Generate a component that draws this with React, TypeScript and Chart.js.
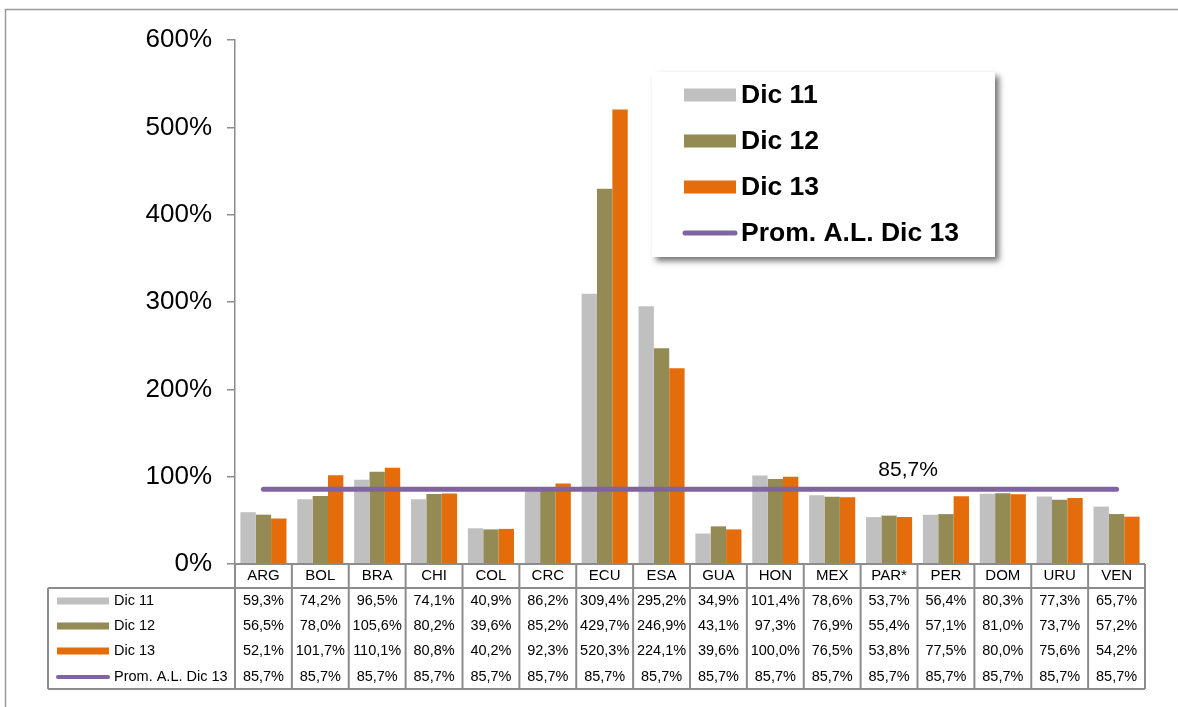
import React, { useEffect, useRef } from "react";
import { Chart, registerables } from "chart.js";

Chart.register(...registerables);

const categories = ["ARG", "BOL", "BRA", "CHI", "COL", "CRC", "ECU", "ESA", "GUA", "HON", "MEX", "PAR*", "PER", "DOM", "URU", "VEN"];
const dic11 = [59.3, 74.2, 96.5, 74.1, 40.9, 86.2, 309.4, 295.2, 34.9, 101.4, 78.6, 53.7, 56.4, 80.3, 77.3, 65.7];
const dic12 = [56.5, 78.0, 105.6, 80.2, 39.6, 85.2, 429.7, 246.9, 43.1, 97.3, 76.9, 55.4, 57.1, 81.0, 73.7, 57.2];
const dic13 = [52.1, 101.7, 110.1, 80.8, 40.2, 92.3, 520.3, 224.1, 39.6, 100.0, 76.5, 53.8, 77.5, 80.0, 75.6, 54.2];
const prom = [85.7, 85.7, 85.7, 85.7, 85.7, 85.7, 85.7, 85.7, 85.7, 85.7, 85.7, 85.7, 85.7, 85.7, 85.7, 85.7];
const seriesNames = ["Dic 11", "Dic 12", "Dic 13", "Prom. A.L. Dic 13"];
const yTicks = [0, 100, 200, 300, 400, 500, 600];
const promLabelIndex = 11;

const COLORS = ["#C0C0C0", "#948A54", "#E46C0A", "#8064A2"];
const FONT = "'Liberation Sans', Arial, sans-serif";
const LINE_GRAY = "#8C8C8C";

const fmt = (v: number) => v.toFixed(1).replace(".", ",") + "%";

const framePlugin = {
  id: "frame",
  beforeDraw(chart: any) {
    const ctx = chart.ctx;
    ctx.save();
    ctx.fillStyle = "#fff";
    ctx.fillRect(0, 0, chart.width, chart.height);
    ctx.strokeStyle = "#9A9A9A";
    ctx.lineWidth = 1.5;
    ctx.strokeRect(5.5, 9.5, 1300, 800);
    ctx.restore();
  },
};

const tablePlugin = {
  id: "dataTable",
  afterDraw(chart: any) {
    const ctx = chart.ctx;
    const xs = chart.scales.x;
    const area = chart.chartArea;
    const n = categories.length;
    const w = (area.right - area.left) / n;
    const top = area.bottom;
    const headBottom = top + 24;
    const bottom = 689;
    const labelLeft = 48;
    const rowY = [601, 626, 651, 677];
    const data = [dic11, dic12, dic13, prom];
    ctx.save();
    ctx.strokeStyle = LINE_GRAY;
    ctx.lineWidth = 2;
    ctx.beginPath();
    ctx.moveTo(area.left, top);
    ctx.lineTo(area.right, top);
    ctx.stroke();
    for (let i = 0; i <= n; i++) {
      const x = area.left + i * w;
      ctx.beginPath();
      ctx.moveTo(x, top);
      ctx.lineTo(x, bottom);
      ctx.stroke();
    }
    ctx.beginPath();
    ctx.moveTo(labelLeft, headBottom);
    ctx.lineTo(area.right, headBottom);
    ctx.moveTo(labelLeft, bottom);
    ctx.lineTo(area.right, bottom);
    ctx.moveTo(labelLeft, headBottom);
    ctx.lineTo(labelLeft, bottom);
    ctx.stroke();
    ctx.fillStyle = "#000";
    ctx.textAlign = "center";
    ctx.textBaseline = "middle";
    ctx.font = `15px ${FONT}`;
    for (let i = 0; i < n; i++) {
      const cx = xs.getPixelForValue(i);
      ctx.fillText(categories[i], cx, top + 12);
    }
    for (let r = 0; r < 4; r++) {
      const y = rowY[r];
      if (r < 3) {
        ctx.fillStyle = COLORS[r];
        ctx.fillRect(57, y - 3.5, 52, 7);
      } else {
        ctx.strokeStyle = COLORS[3];
        ctx.lineWidth = 4;
        ctx.lineCap = "round";
        ctx.beginPath();
        ctx.moveTo(58, y);
        ctx.lineTo(108, y);
        ctx.stroke();
      }
      ctx.fillStyle = "#000";
      ctx.textAlign = "left";
      ctx.font = `14.5px ${FONT}`;
      ctx.fillText(seriesNames[r], 114, y);
      ctx.textAlign = "center";
      for (let i = 0; i < n; i++) {
        const cx = xs.getPixelForValue(i);
        ctx.fillText(fmt(data[r][i]), cx, y);
      }
    }
    ctx.restore();
  },
};

const legendPlugin = {
  id: "boxLegend",
  afterDraw(chart: any) {
    const ctx = chart.ctx;
    const x0 = 652, y0 = 72, x1 = 995, y1 = 257;
    ctx.save();
    ctx.shadowColor = "rgba(0,0,0,0.55)";
    ctx.shadowBlur = 6;
    ctx.shadowOffsetX = 4;
    ctx.shadowOffsetY = 4;
    ctx.fillStyle = "#fff";
    ctx.fillRect(x0, y0, x1 - x0, y1 - y0);
    ctx.restore();
    ctx.save();
    const ys = [95, 141, 187, 233];
    for (let r = 0; r < 4; r++) {
      const y = ys[r];
      if (r < 3) {
        ctx.fillStyle = COLORS[r];
        ctx.fillRect(684, y - 6.5, 52, 13);
      } else {
        ctx.strokeStyle = COLORS[3];
        ctx.lineWidth = 5;
        ctx.lineCap = "round";
        ctx.beginPath();
        ctx.moveTo(685, y);
        ctx.lineTo(735, y);
        ctx.stroke();
      }
      ctx.fillStyle = "#000";
      ctx.font = `bold 26.5px ${FONT}`;
      ctx.textAlign = "left";
      ctx.textBaseline = "middle";
      ctx.fillText(seriesNames[r], 741, y + 1);
    }
    ctx.restore();
  },
};

const promLabelPlugin = {
  id: "promLabel",
  afterDatasetsDraw(chart: any) {
    const ctx = chart.ctx;
    const xs = chart.scales.x;
    const ys = chart.scales.y;
    const x = xs.getPixelForValue(promLabelIndex) + 19;
    const y = ys.getPixelForValue(prom[promLabelIndex]) - 19;
    ctx.save();
    ctx.fillStyle = "#000";
    ctx.font = `21px ${FONT}`;
    ctx.textAlign = "center";
    ctx.textBaseline = "middle";
    ctx.fillText(fmt(prom[promLabelIndex]), x, y);
    ctx.restore();
  },
};

export default function App() {
  const ref = useRef<HTMLCanvasElement>(null);
  useEffect(() => {
    document.body.style.margin = "0";
    const canvas = ref.current;
    if (!canvas) return;
    const chart = new Chart(canvas, {
      type: "bar",
      data: {
        labels: categories,
        datasets: [
          { type: "line", label: seriesNames[3], data: prom, borderColor: COLORS[3], backgroundColor: COLORS[3], borderWidth: 5, pointRadius: 0, borderCapStyle: "round", order: 0 } as any,
          { label: seriesNames[0], data: dic11, backgroundColor: COLORS[0], order: 1 },
          { label: seriesNames[1], data: dic12, backgroundColor: COLORS[1], order: 1 },
          { label: seriesNames[2], data: dic13, backgroundColor: COLORS[2], order: 1 },
        ],
      },
      options: {
        responsive: false,
        animation: false,
        events: [],
        layout: { padding: { left: 0, top: 40, right: 33, bottom: 143 } },
        datasets: { bar: { categoryPercentage: 0.81, barPercentage: 1.0 } } as any,
        plugins: { legend: { display: false }, tooltip: { enabled: false }, title: { display: false } },
        scales: {
          x: { display: false, offset: true },
          y: {
            min: 0,
            max: 600,
            afterFit: (s: any) => { s.width = 235; },
            afterBuildTicks: (s: any) => { s.ticks = yTicks.map((v) => ({ value: v })); },
            ticks: {
              callback: (v: any) => v + "%",
              font: { family: FONT, size: 26 },
              color: "#000",
              padding: 15,
            },
            grid: { display: true, drawOnChartArea: false, drawTicks: true, tickLength: 8, color: LINE_GRAY, lineWidth: 1.5 },
            border: { display: true, color: LINE_GRAY, width: 1.5 },
          },
        },
      } as any,
      plugins: [framePlugin, tablePlugin, legendPlugin, promLabelPlugin],
    });
    return () => chart.destroy();
  }, []);
  return <canvas ref={ref} width={1178} height={707} style={{ display: "block", width: 1178, height: 707 }} />;
}
